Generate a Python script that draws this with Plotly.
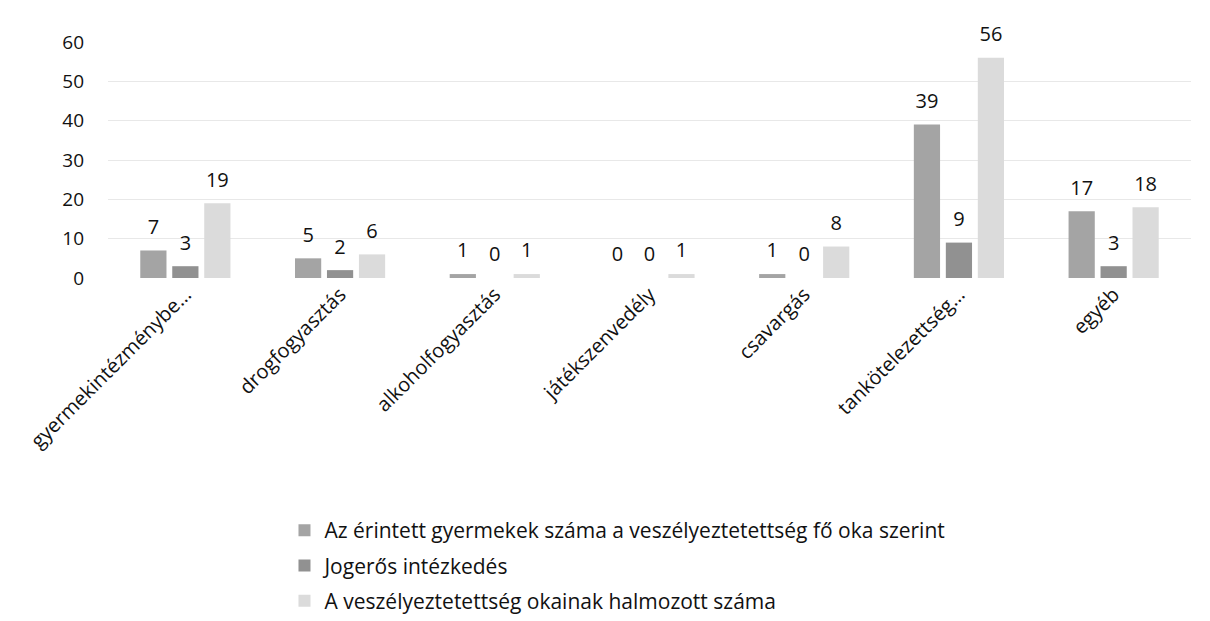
import plotly.graph_objects as go

categories = ["gyermekintézménybe…", "drogfogyasztás", "alkoholfogyasztás",
              "játékszenvedély", "csavargás", "tankötelezettség…", "egyéb"]
series_names = ["Az érintett gyermekek száma a veszélyeztetettség fő oka szerint",
                "Jogerős intézkedés",
                "A veszélyeztetettség okainak halmozott száma"]
s1 = [7, 5, 1, 0, 1, 39, 17]
s2 = [3, 2, 0, 0, 0, 9, 3]
s3 = [19, 6, 1, 1, 8, 56, 18]
y_ticks = [0, 10, 20, 30, 40, 50, 60]

colors = ["#a4a4a4", "#919191", "#dbdbdb"]
font_family = "Open Sans, Lato, sans-serif"

fig = go.Figure()
for i, (name, vals) in enumerate(zip(series_names, [s1, s2, s3])):
    fig.add_trace(go.Bar(
        x=categories, y=vals, name=name,
        marker=dict(color=colors[i], line=dict(width=0)),
        legendgroup=str(i), offsetgroup=str(i),
    ))
for i, vals in enumerate([s1, s2, s3]):
    fig.add_trace(go.Scatter(
        x=categories, y=vals, mode="markers+text",
        text=[str(v) for v in vals], textposition="top center",
        textfont=dict(size=20, color="#111111", family=font_family),
        marker=dict(size=17, opacity=0),
        cliponaxis=False, showlegend=False, hoverinfo="skip",
        offsetgroup=str(i),
    ))

fig.update_layout(
    width=1210, height=621,
    paper_bgcolor="white", plot_bgcolor="white",
    margin=dict(l=100, r=27, t=34, b=351, autoexpand=False),
    barmode="group", bargap=0.38, bargroupgap=0.18,
    scattermode="group", scattergap=0.38,
    font=dict(family=font_family, color="#111111"),
    showlegend=True,
    legend=dict(orientation="v", xref="container", yref="container",
                x=0.2285, y=0.1916, xanchor="left", yanchor="top",
                font=dict(size=21, color="#111111", family=font_family),
                tracegroupgap=5, itemwidth=30),
)
fig.update_yaxes(range=[0, 60], tickvals=y_ticks, showgrid=True, gridcolor="#e8e8e8",
                 zeroline=False, showline=False,
                 tickfont=dict(size=19, color="#111111", family=font_family),
                 ticks="", ticklabelstandoff=23)
fig.update_xaxes(tickangle=-45, showgrid=False, showline=False, ticks="",
                 tickfont=dict(size=20, color="#111111", family=font_family))

fig.write_html("out.html")
